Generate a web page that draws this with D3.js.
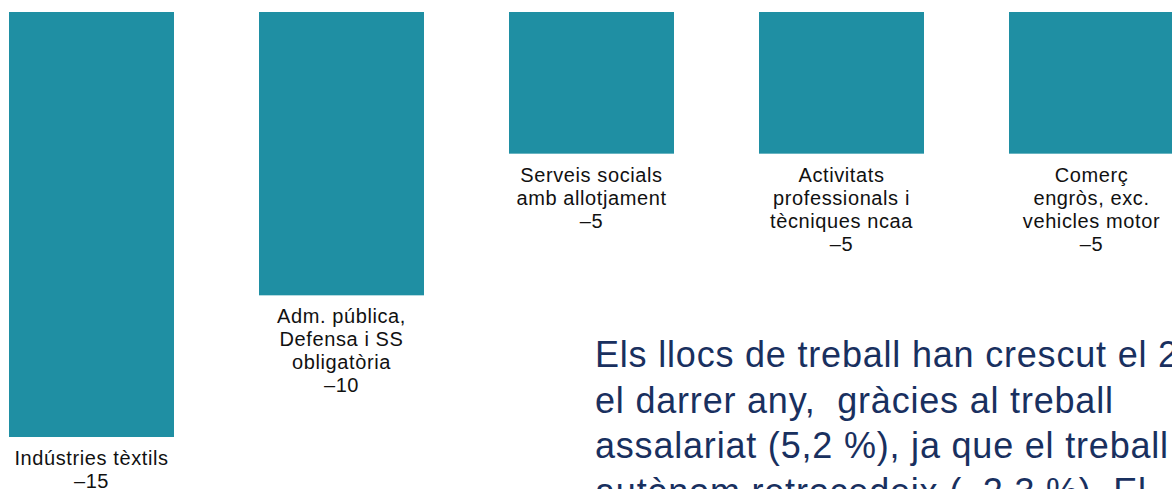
<!DOCTYPE html>
<html>
<head>
<meta charset="utf-8">
<script src="https://cdn.jsdelivr.net/npm/d3@7"></script>
<style>
  html, body { margin: 0; padding: 0; background: #fff; overflow: hidden; }
  svg { display: block; }
</style>
</head>
<body>
<div id="chart"></div>
<script>
// Sectors (label lines) and job change values
const sectors = [
    ["Indústries tèxtils"],
    ["Adm. pública,", "Defensa i SS", "obligatòria"],
    ["Serveis socials", "amb allotjament"],
    ["Activitats", "professionals i", "tècniques ncaa"],
    ["Comerç", "engròs, exc.", "vehicles motor"]
];
const values = [-15, -10, -5, -5, -5];

// Commentary text beside the chart (runs off the right edge)
const noteLines = [
    "Els llocs de treball han crescut el 2",
    "el darrer any,  gràcies al treball",
    "assalariat (5,2 %), ja que el treball",
    "autònom retrocedeix (–2,3 %). El"
];

const width = 1172, height = 489;
const font = "'Liberation Sans', Arial, Helvetica, sans-serif";

const svg = d3.select("#chart")
    .append("svg")
        .attr("width", width)
        .attr("height", height);

const keys = sectors.map((d, i) => "s" + i);

// x band: bars 165px wide every 250px
const x = d3.scaleBand()
    .domain(keys)
    .range([9, 1174])
    .paddingInner(0.34)
    .paddingOuter(0);

// bars hang down from zero at the top
const y = d3.scaleLinear()
    .domain([0, -15])
    .range([12, 437]);

svg.selectAll("rect.bar")
    .data(values)
    .join("rect")
        .attr("class", "bar")
        .attr("x", (d, i) => x(keys[i]))
        .attr("y", y(0))
        .attr("width", x.bandwidth())
        .attr("height", d => y(d) - y(0))
        .attr("fill", "#1f8fa3");

// labels under each bar
const lineH = 23;
sectors.forEach(function(lines, i) {
    const all = lines.concat(["–" + Math.abs(values[i])]);
    const cx = x(keys[i]) + x.bandwidth() / 2;
    const t = svg.append("text")
        .attr("text-anchor", "middle")
        .style("font-family", font)
        .style("font-size", "20px")
        .style("letter-spacing", "0.6px")
        .style("fill", "#111");
    all.forEach(function(s, j) {
        t.append("tspan")
            .attr("x", cx)
            .attr("y", y(values[i]) + 28 + j * lineH)
            .text(s);
    });
});

// commentary block
const note = svg.append("text")
    .style("font-family", font)
    .style("font-size", "36px")
    .style("letter-spacing", "0.8px")
    .style("fill", "#19305f")
    .style("white-space", "pre");
noteLines.forEach(function(s, j) {
    note.append("tspan")
        .attr("x", 595)
        .attr("y", 367 + j * 45.7)
        .text(s);
});
</script>
</body>
</html>
